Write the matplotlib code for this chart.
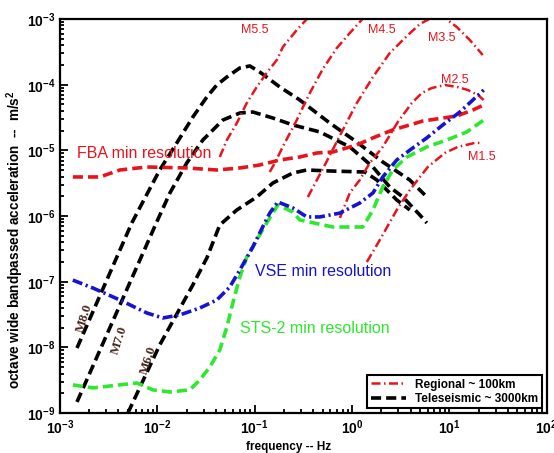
import math
import matplotlib
matplotlib.use('Agg')
import matplotlib.pyplot as plt
from matplotlib.ticker import FixedLocator, LogLocator, NullFormatter, FuncFormatter

plt.rcParams['font.family'] = ['Liberation Sans', 'DejaVu Sans']
plt.rcParams['mathtext.fontset'] = 'custom'
plt.rcParams['mathtext.rm'] = 'Liberation Sans'
plt.rcParams['mathtext.bf'] = 'Liberation Sans:bold'

# ---- data (frequency in Hz, acceleration in m/s^2) ----
# teleseismic ~3000 km spectra
tele_m80_f = [1.5e-3, 5.48e-3, 1.06e-2, 1.59e-2, 2.32e-2, 3.23e-2, 4.09e-2, 5.19e-2, 7.05e-2,
              8.93e-2, 0.113, 0.182, 0.291, 0.591, 1.12, 2.07, 3.92, 5.59]
tele_m80_a = [9.8e-9, 7.85e-7, 5.03e-6, 1.30e-5, 3.22e-5, 6.5e-5, 9.9e-5, 1.31e-4, 1.80e-4,
              1.93e-4, 1.56e-4, 9.2e-5, 5.85e-5, 2.61e-5, 1.34e-5, 6.66e-6, 3.54e-6, 2.10e-6]

tele_m70_f = [1.5e-3, 1.01e-2, 1.35e-2, 2.01e-2, 2.94e-2, 4.72e-2, 7.05e-2, 9.59e-2, 0.154,
              0.247, 0.467, 0.949, 1.64, 2.44, 3.33, 4.97, 5.86]
tele_m70_a = [1.48e-9, 8.73e-7, 2.25e-6, 6.43e-6, 1.44e-5, 2.90e-5, 3.71e-5, 3.84e-5, 3.11e-5,
              2.44e-5, 1.91e-5, 1.13e-5, 5.59e-6, 2.77e-6, 1.95e-6, 1.04e-6, 7.85e-7]

tele_m60_f = [4.99e-3, 1.06e-2, 2.32e-2, 3.23e-2, 4.39e-2, 6.57e-2, 0.105, 0.154, 0.247,
              0.344, 0.591, 1.35, 1.80, 2.28, 2.88, 3.92]
tele_m60_a = [1.0e-9, 1.09e-8, 8.93e-8, 2.30e-7, 7.33e-7, 1.24e-6, 1.95e-6, 3.19e-6, 4.53e-6,
              5.03e-6, 4.86e-6, 4.69e-6, 3.54e-6, 2.49e-6, 1.76e-6, 1.24e-6]

# regional ~100 km spectra
reg_m55_f = [4.39e-2, 5.19e-2, 6.57e-2, 8.31e-2, 0.105, 0.133, 0.169, 0.195, 0.271, 0.344, 0.435]
reg_m55_a = [7.94e-6, 1.44e-5, 2.61e-5, 5.26e-5, 9.2e-5, 1.51e-4, 2.38e-4, 3.75e-4, 6.81e-4,
             1.0e-3, 1.63e-3]

reg_m45_f = [0.143, 0.161, 0.204, 0.271, 0.369, 0.501, 0.698, 0.949, 1.20, 1.42]
reg_m45_a = [4.69e-6, 6.43e-6, 1.30e-5, 2.90e-5, 7.48e-5, 1.73e-4, 3.62e-4, 6.12e-4, 9.0e-4, 1.19e-3]

reg_m35_f = [0.352, 0.526, 0.805, 1.12, 1.64, 2.44, 3.66, 4.97, 6.76, 8.97, 11.9, 16.2, 22.0]
reg_m35_a = [1.95e-6, 6.0e-6, 2.05e-5, 5.26e-5, 1.31e-4, 3.03e-4, 5.51e-4, 8.39e-4, 1.07e-3,
             1.04e-3, 7.56e-4, 4.79e-4, 2.83e-4]

reg_m25_f = [0.750, 0.949, 1.20, 1.52, 2.07, 2.95, 4.11, 5.21, 6.59, 8.97, 12.2, 15.5, 19.6, 22.5]
reg_m25_a = [9.35e-7, 2.25e-6, 3.54e-6, 6.43e-6, 1.13e-5, 2.70e-5, 5.26e-5, 7.48e-5, 8.91e-5,
             9.9e-5, 9.2e-5, 8.3e-5, 6.97e-5, 5.85e-5]

reg_m15_f = [1.42, 1.93, 2.88, 3.92, 6.0, 8.97, 12.2, 18.2, 22.0]
reg_m15_a = [2.0e-7, 4.33e-7, 1.24e-6, 2.49e-6, 5.59e-6, 9.13e-6, 1.13e-5, 1.30e-5, 1.30e-5]

# instrument minimum resolution
fba_f = [1.36e-3, 2.58e-3, 4.13e-3, 7.82e-3, 2.01e-2, 4.09e-2, 7.05e-2, 0.113, 0.182, 0.291,
         0.435, 0.635, 1.12, 1.64, 2.62, 3.92, 5.33, 8.55, 11.9, 17.4, 22.5]
fba_a = [3.94e-6, 3.94e-6, 5.03e-6, 5.59e-6, 5.40e-6, 5.03e-6, 5.40e-6, 6.0e-6, 7.15e-6, 7.94e-6,
         9.13e-6, 9.46e-6, 1.21e-5, 1.55e-5, 2.05e-5, 2.44e-5, 2.80e-5, 3.11e-5, 3.34e-5, 4.12e-5, 4.91e-5]

vse_f = [1.36e-3, 2.18e-3, 4.13e-3, 7.82e-3, 1.14e-2, 1.71e-2, 2.74e-2, 4.09e-2, 5.56e-2, 7.05e-2,
         9.59e-2, 0.121, 0.143, 0.173, 0.247, 0.344, 0.467, 0.750, 1.20, 1.64, 2.07, 2.88, 4.21,
         5.86, 8.55, 12.8, 17.4, 22.5]
vse_a = [1.06e-7, 8.05e-8, 5.28e-8, 3.35e-8, 2.81e-8, 3.13e-8, 3.99e-8, 5.28e-8, 8.33e-8, 1.51e-7,
         3.39e-7, 6.82e-7, 1.11e-6, 1.64e-6, 1.33e-6, 9.7e-7, 9.7e-7, 1.11e-6, 1.58e-6, 2.25e-6,
         3.94e-6, 7.15e-6, 1.09e-5, 1.55e-5, 2.44e-5, 3.84e-5, 5.85e-5, 8.3e-5]

sts_f = [1.36e-3, 2.18e-3, 4.13e-3, 6.18e-3, 9.0e-3, 1.35e-2, 2.16e-2, 2.74e-2, 3.47e-2, 4.39e-2,
         5.19e-2, 5.97e-2, 7.05e-2, 8.31e-2, 0.105, 0.133, 0.173, 0.247, 0.291, 0.635, 1.29, 1.64,
         2.07, 2.62, 3.66, 5.86, 9.40, 15.1, 22.5]
sts_a = [2.69e-9, 2.42e-9, 2.69e-9, 2.88e-9, 2.26e-9, 2.10e-9, 2.26e-9, 3.20e-9, 5.05e-9, 9.16e-9,
         2.05e-8, 4.75e-8, 1.18e-7, 2.38e-7, 4.33e-7, 7.85e-7, 1.48e-6, 1.15e-6, 8.73e-7, 6.82e-7,
         6.82e-7, 1.24e-6, 2.77e-6, 5.03e-6, 7.94e-6, 1.13e-5, 1.44e-5, 1.91e-5, 2.90e-5]

red = '#e8141c'
blue = '#1414d2'
green = '#2ee82e'
brown = '#4b2a1c'

fig = plt.figure(figsize=(5.54, 4.53), dpi=100)
ax = fig.add_axes([0.108, 0.088, 0.879, 0.870])

tele_style = dict(color='black', lw=2.6, dashes=(2.8, 1.4))
reg_style = dict(color=red, lw=1.8, dashes=(3.6, 1.4, 0.6, 1.4))

# teleseismic
ax.plot(tele_m80_f, tele_m80_a, **tele_style)
ax.plot(tele_m70_f, tele_m70_a, **tele_style)
ax.plot(tele_m60_f, tele_m60_a, **tele_style)

# regional
for f, a in [(reg_m55_f, reg_m55_a), (reg_m45_f, reg_m45_a), (reg_m35_f, reg_m35_a),
             (reg_m25_f, reg_m25_a), (reg_m15_f, reg_m15_a)]:
    ax.plot(f, a, **reg_style)

# instrument resolution
ax.plot(fba_f, fba_a, color=red, lw=2.6, dashes=(2.8, 1.4))
ax.plot(sts_f, sts_a, color=green, lw=2.6, dashes=(2.8, 1.4))
ax.plot(vse_f, vse_a, color=blue, lw=2.6, dashes=(2.8, 1.0, 0.6, 1.0))

ax.set_xscale('log')
ax.set_yscale('log')
ax.set_xlim(1e-3, 1e2)
ax.set_ylim(1e-9, 1e-3)

ax.xaxis.set_major_locator(FixedLocator([1e-3, 1e-2, 1e-1, 1e0, 1e1, 1e2]))
ax.yaxis.set_major_locator(FixedLocator([1e-9, 1e-8, 1e-7, 1e-6, 1e-5, 1e-4, 1e-3]))
ax.xaxis.set_minor_locator(LogLocator(base=10, subs=range(2, 10), numticks=20))
ax.yaxis.set_minor_locator(LogLocator(base=10, subs=range(2, 10), numticks=20))
ax.xaxis.set_minor_formatter(NullFormatter())
ax.yaxis.set_minor_formatter(NullFormatter())
fmt = FuncFormatter(lambda v, p: r'$\mathbf{10^{%d}}$' % round(math.log10(v)))
ax.xaxis.set_major_formatter(fmt)
ax.yaxis.set_major_formatter(fmt)

ax.tick_params(which='both', direction='in', top=False, right=False, width=1.3)
ax.tick_params(which='major', length=6, labelsize=10, pad=3)
ax.tick_params(axis='x', which='major', pad=4)
ax.tick_params(which='minor', length=3)
for s in ax.spines.values():
    s.set_linewidth(1.6)

ax.set_xlabel(r'frequency -- Hz', fontsize=8.5, fontweight='bold')
ax.set_ylabel(r'octave wide bandpassed acceleration  --  m/s$^\mathbf{2}$', fontsize=9.8,
              fontweight='bold')
ax.xaxis.set_label_coords(0.47, -0.07)
ax.yaxis.set_label_coords(-0.07, 0.44)

# curve labels
ax.text(0.035, 0.660, 'FBA min resolution', transform=ax.transAxes, color=red,
        fontsize=11.5, va='center', ha='left')
ax.text(0.400, 0.360, 'VSE min resolution', transform=ax.transAxes, color=blue,
        fontsize=11.5, va='center', ha='left')
ax.text(0.370, 0.216, 'STS-2 min resolution', transform=ax.transAxes, color=green,
        fontsize=11.5, va='center', ha='left')

for txt, x, y in [('M5.5', 0.400, 0.972), ('M4.5', 0.661, 0.972), ('M3.5', 0.784, 0.952),
                  ('M2.5', 0.811, 0.845), ('M1.5', 0.867, 0.650)]:
    ax.text(x, y, txt, transform=ax.transAxes, color=red, fontsize=9, ha='center', va='center')

for txt, x, y in [('M8.0', 0.051, 0.241), ('M7.0', 0.123, 0.185), ('M6.0', 0.181, 0.135)]:
    ax.text(x, y, txt, transform=ax.transAxes, color=brown, fontsize=9.5, rotation=72,
            ha='center', va='center', family='Liberation Serif', fontweight='bold')

# legend
h1, = ax.plot([], [], **reg_style)
h2, = ax.plot([], [], **tele_style)
leg = ax.legend([h1, h2], ['Regional ~ 100km', 'Teleseismic ~ 3000km'], loc='lower right',
                prop={'weight': 'bold', 'size': 8.5}, handlelength=3.0,
                fancybox=False, framealpha=1, edgecolor='black', borderaxespad=0.4,
                labelspacing=0.2, borderpad=0.3)
leg.get_frame().set_linewidth(1.5)

fig.savefig('out.png', dpi=100, facecolor='white')
